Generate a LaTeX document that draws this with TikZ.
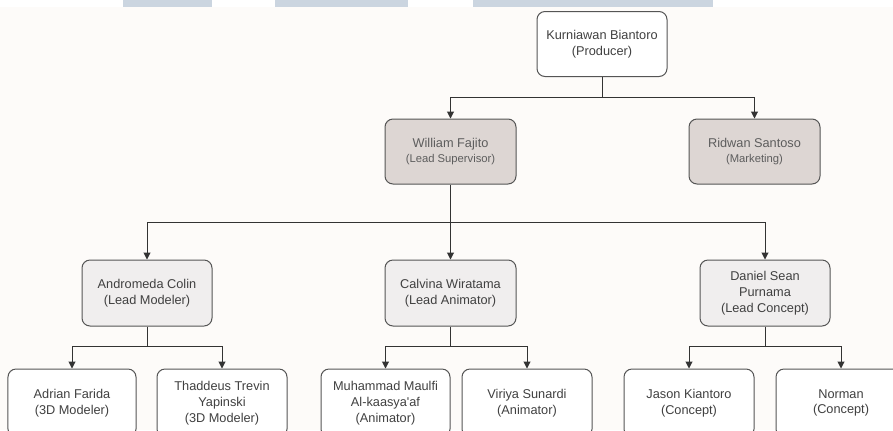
\documentclass[tikz,border=0pt]{standalone}
\usepackage{fontspec}
\setmainfont{Liberation Sans}[Ligatures=TeXOff]
\usetikzlibrary{arrows.meta}
\definecolor{bandc}{HTML}{CBD5E0}
\definecolor{bgc}{HTML}{FDFBF9}
\definecolor{linec}{HTML}{333333}
\definecolor{boxline}{HTML}{555555}
\definecolor{txtc}{HTML}{404040}
\definecolor{fillA}{HTML}{DDD6D3}
\definecolor{fillB}{HTML}{F0EEEE}
\tikzset{
  box/.style={draw=boxline, line width=1bp, rounded corners=8bp, fill=white,
    minimum width=130bp, minimum height=65bp, inner sep=2bp, align=center,
    text=txtc, font=\fontsize{12.8}{15.8}\selectfont},
  boxA/.style={box, fill=fillA, text=txtc!85},
  boxB/.style={box, fill=fillB},
  conn/.style={draw=linec, line width=1bp},
  arr/.style={conn, -{Triangle[length=7bp,width=7bp]}}
}
\newcommand{\subt}[1]{{\fontsize{11.3}{14}\selectfont #1}}
\begin{document}
\begin{tikzpicture}[x=1bp,y=-1bp]
\useasboundingbox (0,0) rectangle (893,430);
\clip (0,0) rectangle (893,430);
\fill[white] (0,0) rectangle (893,430);
\fill[bgc] (0,7) rectangle (893,430);
\fill[bandc] (123,0) rectangle (212,7);
\fill[bandc] (275,0) rectangle (408,7);
\fill[bandc] (473,0) rectangle (713,7);

\node[box] (prod) at (602,44) {Kurniawan Biantoro\\(Producer)};
\node[boxA, minimum width=131bp] (will) at (450.5,151.5) {William Fajito\\\subt{(Lead Supervisor)}};
\node[boxA, minimum width=131bp] (ridw) at (754.5,151.5) {Ridwan Santoso\\\subt{(Marketing)}};

\node[boxB, minimum height=66bp] (andr) at (147,293) {Andromeda Colin\\(Lead Modeler)};
\node[boxB, minimum width=131bp, minimum height=66bp] (calv) at (450.5,293) {Calvina Wiratama\\(Lead Animator)};
\node[boxB, minimum height=66bp] (dani) at (765,293) {Daniel Sean\\Purnama\\(Lead Concept)};

\node[box, minimum width=128bp, minimum height=68bp] (adri) at (72,403) {Adrian Farida\\(3D Modeler)};
\node[box, minimum height=68bp] (thad) at (222,403) {Thaddeus Trevin\\Yapinski\\(3D Modeler)};
\node[box, minimum width=129bp, minimum height=68bp] (muha) at (385.5,403) {Muhammad Maulfi\\Al-kaasya'af\\(Animator)};
\node[box, minimum height=68bp] (viri) at (527,403) {Viriya Sunardi\\(Animator)};
\node[box, minimum height=68bp] (jaso) at (689,403) {Jason Kiantoro\\(Concept)};
\node[box, minimum height=68bp] (norm) at (841,403) {Norman\\(Concept)};

\coordinate (j1) at (602,97);
\coordinate (j2) at (450.5,222);
\coordinate (j3) at (147,346.5);
\coordinate (j4) at (450.5,346.5);
\coordinate (j5) at (765,346.5);

\draw[conn] (prod.south) -- (j1);
\draw[arr] (j1) -| (will.north);
\draw[arr] (j1) -| (ridw.north);

\draw[conn] (will.south) -- (j2);
\draw[arr] (j2) -| (andr.north);
\draw[arr] (j2) -- (calv.north);
\draw[arr] (j2) -| (dani.north);

\draw[conn] (andr.south) -- (j3);
\draw[arr] (j3) -| (adri.north);
\draw[arr] (j3) -| (thad.north);

\draw[conn] (calv.south) -- (j4);
\draw[arr] (j4) -| (muha.north);
\draw[arr] (j4) -| (viri.north);

\draw[conn] (dani.south) -- (j5);
\draw[arr] (j5) -| (jaso.north);
\draw[arr] (j5) -| (norm.north);
\end{tikzpicture}
\end{document}
